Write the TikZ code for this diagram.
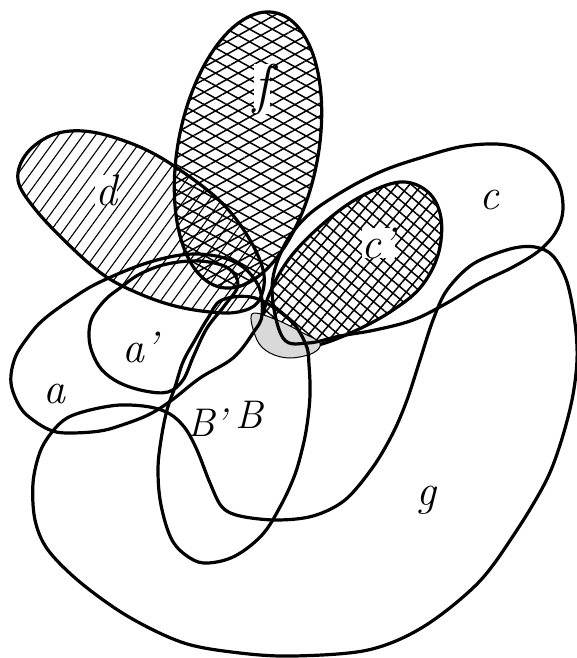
\documentclass[tikz,border=0pt]{standalone}
\usetikzlibrary{patterns.meta}
\begin{document}
\begin{tikzpicture}[x=1pt,y=-1pt,
  outl/.style={line width=3.2pt, line join=round, line cap=round},
  dhatch/.style={pattern={Lines[angle=54,distance=10pt,line width=1.1pt]}},
  fhatchA/.style={pattern={Lines[angle=29,distance=11pt,line width=1.5pt]}},
  fhatchB/.style={pattern={Lines[angle=-29,distance=11pt,line width=1.5pt]}},
  chatchA/.style={pattern={Lines[angle=50,distance=9.5pt,line width=1.5pt]}},
  chatchB/.style={pattern={Lines[angle=-40,distance=9.5pt,line width=1.5pt]}},
  lab/.style={font=\fontsize{44}{44}\selectfont\itshape, inner sep=0pt}]
\useasboundingbox (0,0) rectangle (577,658);
\fill[white] (0,0) rectangle (577,658);

% d (hatched)
\draw[outl, dhatch] plot[smooth cycle, tension=0.6] coordinates {
 (18,180) (27,153) (55,134) (92,132) (140,147) (180,170) (222,203) (250,240)
 (264,275) (258,302) (238,312) (210,312) (175,306) (140,294) (105,276) (70,246) (35,209)};

% f (crosshatched ellipse)
\draw[outl, preaction={fhatchA}, fhatchB] plot[domain=0:360, samples=120, variable=\t]
 ({248+70*cos(\t)*cos(11)-140*sin(\t)*sin(11)},{150+70*cos(\t)*sin(11)+140*sin(\t)*cos(11)}) -- cycle;

% c' (crosshatched)
\draw[outl, preaction={chatchA}, chatchB] plot[smooth cycle, tension=0.6] coordinates {
 (400,182) (428,192) (441,218) (438,255) (420,288) (390,312) (357,330) (322,344)
 (290,350) (268,342) (263,318) (272,288) (292,255) (325,222) (360,197)};

% stippled lens
\draw[line width=1pt, fill=black!15] plot[smooth cycle, tension=0.6] coordinates {
 (252,314) (277,320) (303,333) (320,343) (313,353) (290,358) (270,353) (257,340)};

% c
\draw[outl] plot[smooth cycle, tension=0.6] coordinates {
 (272,290) (282,250) (305,218) (340,193) (380,172) (420,158) (465,146) (507,145)
 (537,157) (557,180) (563,207) (557,230) (540,250) (513,267) (480,283) (447,303)
 (413,320) (375,330) (340,336) (308,343) (283,338)};

% a
\draw[outl] plot[smooth cycle, tension=0.6] coordinates {
 (43,320) (70,300) (100,282) (150,262) (195,254) (235,262) (258,285) (262,315)
 (253,333) (233,358) (200,378) (172,400) (150,414) (125,424) (100,431) (67,433)
 (50,430) (33,420) (20,407) (11,383) (15,358) (28,337)};

% a'
\draw[outl] plot[smooth cycle, tension=0.6] coordinates {
 (92,318) (105,300) (120,288) (140,274) (167,264) (200,261) (228,268) (238,285)
 (225,305) (207,328) (194,355) (183,380) (168,392) (145,391) (120,383) (102,370)
 (92,352) (89,335)};

% B
\draw[outl] plot[smooth cycle, tension=0.6] coordinates {
 (222,300) (208,318) (195,340) (183,362) (175,387) (167,410) (161,440) (158,470)
 (161,505) (172,540) (190,558) (208,563) (235,556) (262,535) (280,507) (294,477)
 (302,450) (307,425) (310,395) (309,365) (306,345) (290,320) (255,298)};

% g
\draw[outl] plot[smooth cycle, tension=0.55] coordinates {
 (52,432) (40,452) (33,483) (35,520) (48,550) (81,583) (129,617) (184,643)
 (240,653) (294,656) (368,650) (423,627) (478,583) (515,533) (545,483) (560,445)
 (572,400) (577,360) (575,323) (567,282) (553,256) (535,247) (510,249) (473,264)
 (447,290) (433,320) (420,360) (407,400) (393,433) (373,467) (345,500) (313,516)
 (276,520) (240,516) (222,507) (210,483) (197,450) (185,428) (170,414) (150,407)
 (120,405) (90,410) (67,418)};

% labels
\node[lab, font=\fontsize{56}{56}\selectfont\itshape, fill=white] (lf) at (262,89) {f};
\node[lab, fill=white] (ld) at (106,190) {d};
\node[lab] (lc) at (489,200) {c};
\node[lab, fill=white] (lcp) at (378,243) {c'};
\node[lab] (la) at (54,394) {a};
\node[lab] (lap) at (140,347) {a'};
\node[lab, font=\fontsize{40}{40}\selectfont\itshape] (lbp) at (207,423) {B'};
\node[lab, font=\fontsize{40}{40}\selectfont\itshape] (lb) at (249,415) {B};
\node[lab] (lg) at (426,500) {g};
\end{tikzpicture}
\end{document}
